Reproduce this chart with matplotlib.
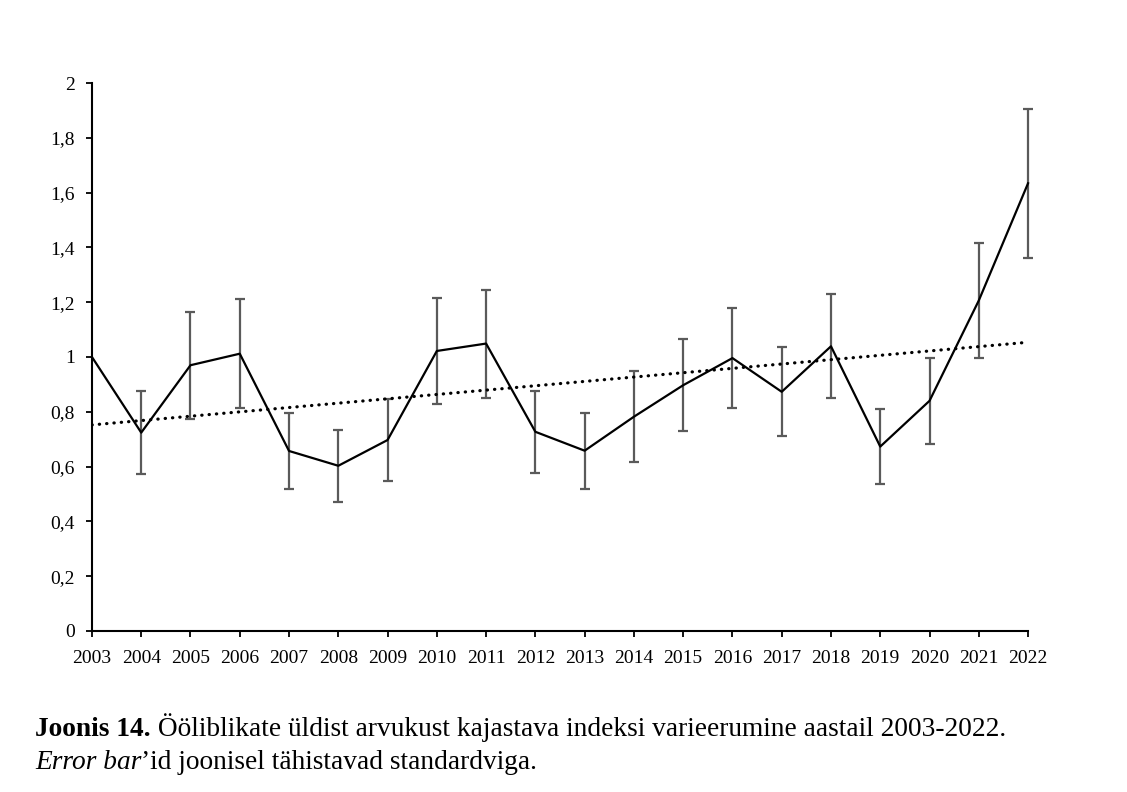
import numpy as np
import matplotlib
matplotlib.use("Agg")
import matplotlib.pyplot as plt

plt.rcParams['font.family'] = ['Liberation Serif', 'DejaVu Serif']

# andmed (loetud jooniselt)
years = list(range(2003, 2023))
index_vals = [1.0, 0.724, 0.970, 1.012, 0.657, 0.603, 0.697, 1.022, 1.049, 0.727,
              0.658, 0.782, 0.897, 0.996, 0.873, 1.039, 0.673, 0.840, 1.206, 1.634]
std_err = [0.0, 0.151, 0.195, 0.198, 0.140, 0.131, 0.151, 0.195, 0.197, 0.150,
           0.138, 0.167, 0.168, 0.181, 0.162, 0.190, 0.136, 0.156, 0.211, 0.272]
y_ticks = [0, 0.2, 0.4, 0.6, 0.8, 1.0, 1.2, 1.4, 1.6, 1.8, 2.0]
y_tick_labels = ["0", "0,2", "0,4", "0,6", "0,8", "1", "1,2", "1,4", "1,6", "1,8", "2"]

fig = plt.figure(figsize=(11.27, 7.92), dpi=100)
ax = fig.add_axes([0.0816, 0.2033, 0.8306, 0.6919])

x = np.array(years)
y = np.array(index_vals)
e = np.array(std_err)

# veapiirid
eb = ax.errorbar(x[1:], y[1:], yerr=e[1:], fmt='none', ecolor='#5a5a5a',
                 elinewidth=1.6, capsize=3.4, capthick=1.6, zorder=2)
for part in eb.lines[1] + eb.lines[2]:
    part.set_clip_on(False)

ax.plot(x, y, color='black', lw=1.6, zorder=3, clip_on=False)

# lineaarne trend
k, b = np.polyfit(x, y, 1)
ax.plot(x, k * x + b, color='black', lw=2.3, linestyle=(0, (0.1, 2.2)),
        dash_capstyle='round', zorder=2)

ax.set_xlim(2003, 2022)
ax.set_ylim(0, 2)
ax.set_xticks(years)
ax.set_xticklabels([str(v) for v in years])
ax.set_yticks(y_ticks)
ax.set_yticklabels(y_tick_labels)

for s in ['top', 'right']:
    ax.spines[s].set_visible(False)
for s in ['left', 'bottom']:
    ax.spines[s].set_linewidth(1.5)
ax.tick_params(axis='both', direction='out', length=4, width=1.3,
               labelsize=14, colors='black')
ax.tick_params(axis='x', pad=10)
ax.tick_params(axis='y', pad=8.5)

# allkiri
fs = 19.7
renderer = fig.canvas.get_renderer()
x0 = 35 / 1127
y1 = 1 - 736 / 792
y2 = 1 - 769 / 792
t1 = fig.text(x0, y1, "Joonis 14.", fontsize=fs, fontweight='bold', va='baseline')
bb = t1.get_window_extent(renderer)
fig.text(bb.x1 / fig.bbox.width, y1,
         " Ööliblikate üldist arvukust kajastava indeksi varieerumine aastail 2003-2022.",
         fontsize=fs, va='baseline')
t2 = fig.text(x0, y2, "Error bar", fontsize=fs, style='italic', va='baseline')
bb2 = t2.get_window_extent(renderer)
fig.text(bb2.x1 / fig.bbox.width, y2,
         "\u2019id joonisel tähistavad standardviga.", fontsize=fs, va='baseline')

fig.savefig("out.png", dpi=100)
